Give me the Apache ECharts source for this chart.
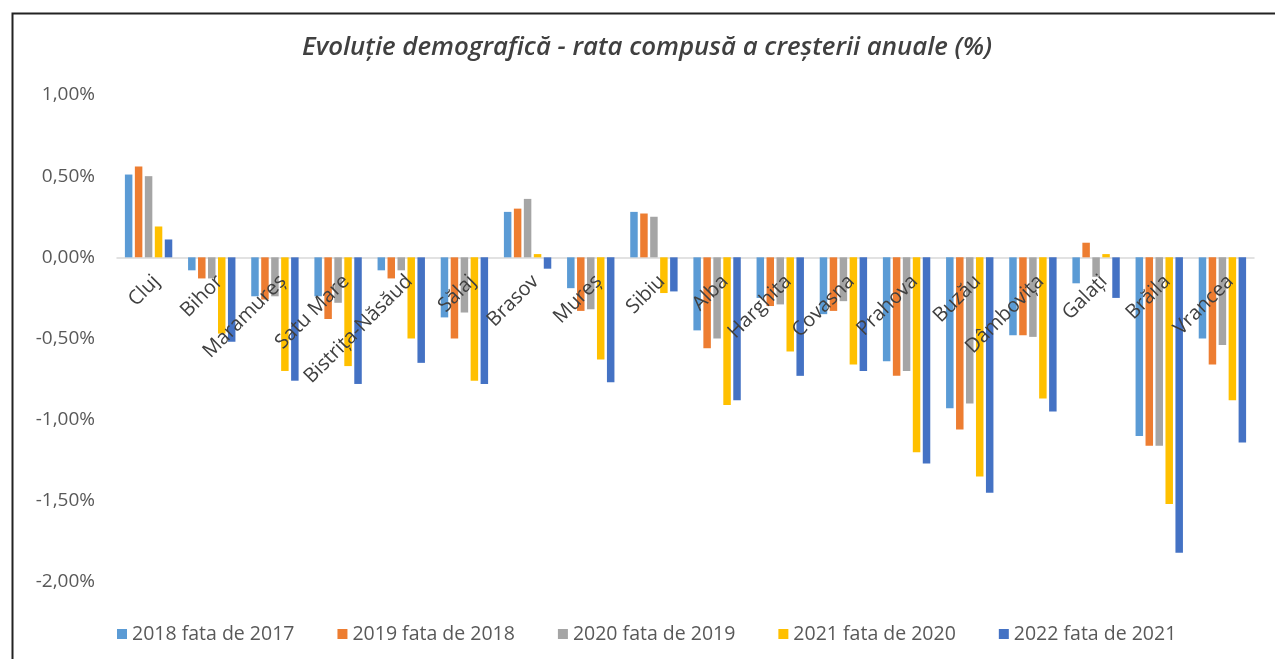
<!DOCTYPE html>
<html>
<head>
<meta charset="utf-8">
<script src="https://cdn.jsdelivr.net/npm/echarts@6/dist/echarts.min.js"></script>
<style>html,body{margin:0;padding:0;background:#fff;}#c{width:1275px;height:659px;}</style>
</head>
<body>
<div id="c"></div>
<script>
const titleText = 'Evoluție demografică - rata compusă a creșterii anuale (%)';
const categories = ['Cluj','Bihor','Maramureș','Satu Mare','Bistrița-Năsăud','Sălaj','Brasov','Mureș','Sibiu','Alba','Harghita','Covasna','Prahova','Buzău','Dâmbovița','Galați','Brăila','Vrancea'];
const seriesNames = ['2018 fata de 2017','2019 fata de 2018','2020 fata de 2019','2021 fata de 2020','2022 fata de 2021'];
const v2018 = [0.51,-0.08,-0.24,-0.24,-0.08,-0.37,0.28,-0.19,0.28,-0.45,-0.25,-0.35,-0.64,-0.93,-0.48,-0.16,-1.10,-0.50];
const v2019 = [0.56,-0.13,-0.26,-0.38,-0.13,-0.50,0.30,-0.33,0.27,-0.56,-0.30,-0.33,-0.73,-1.06,-0.48,0.09,-1.16,-0.66];
const v2020 = [0.50,-0.13,-0.24,-0.28,-0.08,-0.34,0.36,-0.32,0.25,-0.50,-0.29,-0.27,-0.70,-0.90,-0.49,-0.12,-1.16,-0.54];
const v2021 = [0.19,-0.47,-0.70,-0.67,-0.50,-0.76,0.02,-0.63,-0.22,-0.91,-0.58,-0.66,-1.20,-1.35,-0.87,0.02,-1.52,-0.88];
const v2022 = [0.11,-0.52,-0.76,-0.78,-0.65,-0.78,-0.07,-0.77,-0.21,-0.88,-0.73,-0.70,-1.27,-1.45,-0.95,-0.25,-1.82,-1.14];
const yMin = -2, yMax = 1, yStep = 0.5;

const colors = ['#5B9BD5','#ED7D31','#A5A5A5','#FFC000','#4472C4'];
const allValues = [v2018, v2019, v2020, v2021, v2022];
const font = 'Open Sans';

const gTop = 95, gBottom = 77, gLeft = 117, gRight = 21;
const gHeight = 659 - gTop - gBottom;
const zeroOffset = -((0 - yMin) / (yMax - yMin)) * gHeight;
const labelShift = 8;

const chart = echarts.init(document.getElementById('c'));
chart.setOption({
  animation: false,
  backgroundColor: '#fff',
  color: colors,
  graphic: [{
    type: 'rect', left: 10, top: 11, silent: true,
    shape: { width: 1300, height: 700 },
    style: { fill: 'none', stroke: '#222', lineWidth: 2 }
  }],
  title: {
    text: titleText,
    left: 642, top: 30, textAlign: 'center',
    textStyle: { fontFamily: font, fontStyle: 'italic', fontWeight: 600, fontSize: 25.8, color: '#404040' }
  },
  legend: {
    left: 112, top: 619,
    itemWidth: 10, itemHeight: 10, itemGap: 43,
    icon: 'rect',
    textStyle: { fontFamily: font, fontSize: 19.5, color: '#595959' },
    data: seriesNames
  },
  grid: [
    { left: gLeft, right: gRight, top: gTop, bottom: gBottom, outerBoundsMode: 'none' },
    { left: gLeft + labelShift, right: gRight - labelShift, top: gTop, bottom: gBottom, outerBoundsMode: 'none' }
  ],
  xAxis: [{
    type: 'category', data: categories, gridIndex: 0,
    offset: zeroOffset,
    axisLine: { show: true, onZero: false, lineStyle: { color: '#D9D9D9', width: 1.5 } },
    axisTick: { show: false },
    axisLabel: { show: false }
  }, {
    type: 'category', data: categories, gridIndex: 1, z: 10,
    offset: zeroOffset,
    axisLine: { show: false, onZero: false },
    axisTick: { show: false },
    axisLabel: { rotate: 45, interval: 0, margin: 21, fontFamily: font, fontSize: 20, color: '#404040' }
  }],
  yAxis: [{
    type: 'value', min: yMin, max: yMax, interval: yStep, gridIndex: 0,
    splitLine: { show: false },
    axisLine: { show: false }, axisTick: { show: false },
    axisLabel: { margin: 22, fontFamily: font, fontSize: 19, color: '#595959',
      formatter: v => v.toFixed(2).replace('.', ',') + '%' }
  }, {
    type: 'value', min: yMin, max: yMax, interval: yStep, gridIndex: 1, show: false
  }],
  series: seriesNames.map((n, i) => ({
    name: n, type: 'bar', data: allValues[i], xAxisIndex: 0, yAxisIndex: 0,
    barGap: '33%', barCategoryGap: '25%'
  }))
});
</script>
</body>
</html>
